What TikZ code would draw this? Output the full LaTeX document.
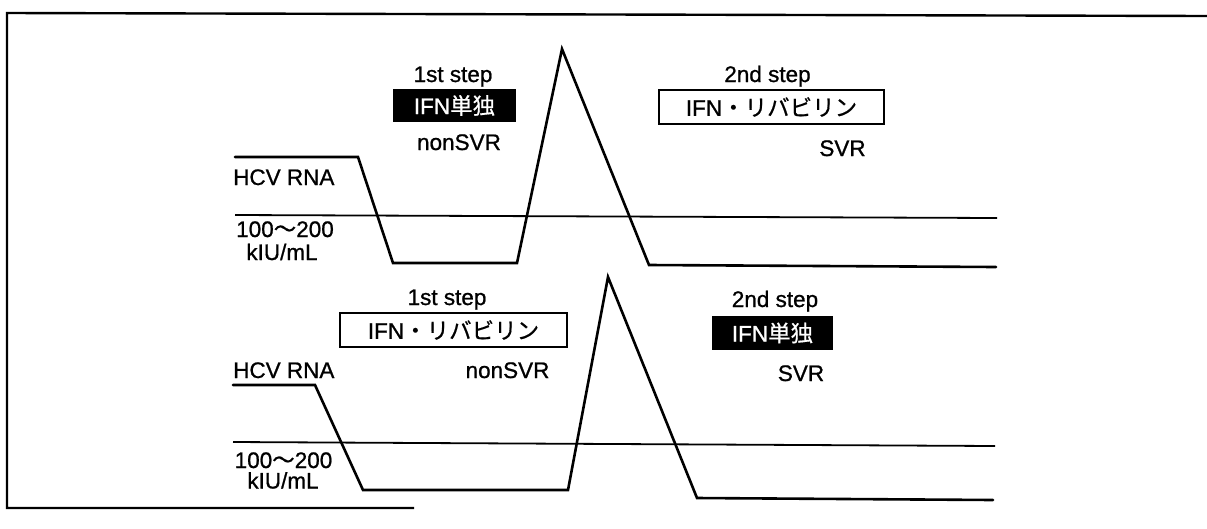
\documentclass[tikz,border=0pt]{standalone}
\usepackage{fontspec}
\setmainfont{Liberation Sans}[UprightFeatures={FakeBold=0.9}]
\newfontfamily\cjk{Noto Sans CJK JP}[UprightFeatures={FakeBold=0.6}]
\begin{document}
\begin{tikzpicture}[x=1pt,y=-1pt,
  lbl/.style={font=\fontsize{22.5}{24}\selectfont, inner sep=0pt, anchor=base},
  lblL/.style={lbl, anchor=base west},
  curve/.style={line width=2.6pt, line join=miter, line cap=round},
  thr/.style={line width=1.8pt},
  framel/.style={line width=2.4pt},
  blackbox/.style={fill=black, text=white, inner sep=0pt, font=\fontsize{22.5}{24}\selectfont},
  whitebox/.style={draw=black, line width=1.8pt, fill=white, inner sep=0pt, font=\fontsize{22.5}{24}\selectfont},
]
\useasboundingbox (0,0) rectangle (1207,528);
% partial frame
\coordinate (f1) at (1207,16);
\coordinate (f2) at (7,13);
\coordinate (f3) at (7,508);
\coordinate (f4) at (414,508);
\draw[framel] (f1) -- (f2) -- (f3) -- (f4);

% ---------- top panel ----------
\coordinate (t0) at (235,157);
\coordinate (t1) at (358,157);
\coordinate (t2) at (393,263);
\coordinate (t3) at (517,263);
\coordinate (t4) at (562,49);
\coordinate (t5) at (649,265);
\coordinate (t6) at (996,267);
\coordinate (ta) at (235,215);
\coordinate (tb) at (997,218);
\draw[thr] (ta) -- (tb);
\draw[curve] (t0) -- (t1) -- (t2) -- (t3) -- (t4) -- (t5) -- (t6);

\node[lbl] (s1a) at (453,82) {1st step};
\node[blackbox, minimum width=123pt, minimum height=33pt] (b1a) at (454.5,105.5) {IFN{\cjk 単独}};
\node[lbl] (n1a) at (459,150) {nonSVR};
\node[lblL] (h1) at (233,185) {HCV RNA};
\node[lbl] (c1a) at (285,237) {100\smash{\cjk 〜}200};
\node[lbl] (c1b) at (282,260) {kIU/mL};
\node[lbl] (s2a) at (767.5,82) {2nd step};
\node[whitebox, minimum width=225pt, minimum height=34pt] (b2a) at (771.5,107) {IFN{\cjk ・リバビリン}};
\node[lbl] (v1) at (842.5,156) {SVR};

% ---------- bottom panel ----------
\coordinate (u0) at (233,385);
\coordinate (u1) at (315,385);
\coordinate (u2) at (363,490);
\coordinate (u3) at (568,490);
\coordinate (u4) at (608,277);
\coordinate (u5) at (697,498);
\coordinate (u6) at (993,500);
\coordinate (ua) at (233,442);
\coordinate (ub) at (995,446);
\draw[thr] (ua) -- (ub);
\draw[curve] (u0) -- (u1) -- (u2) -- (u3) -- (u4) -- (u5) -- (u6);

\node[lbl] (s1b) at (447,305) {1st step};
\node[whitebox, minimum width=227pt, minimum height=34pt] (b1b) at (453.5,330) {IFN{\cjk ・リバビリン}};
\node[lbl] (n1b) at (507.5,378) {nonSVR};
\node[lblL] (h2) at (233,378) {HCV RNA};
\node[lbl] (c2a) at (283.5,468) {100\smash{\cjk 〜}200};
\node[lbl] (c2b) at (283,488.5) {kIU/mL};
\node[lbl] (s2b) at (775,307) {2nd step};
\node[blackbox, minimum width=121pt, minimum height=34pt] (b2b) at (772.5,333) {IFN{\cjk 単独}};
\node[lbl] (v2) at (801,381) {SVR};
\end{tikzpicture}
\end{document}
